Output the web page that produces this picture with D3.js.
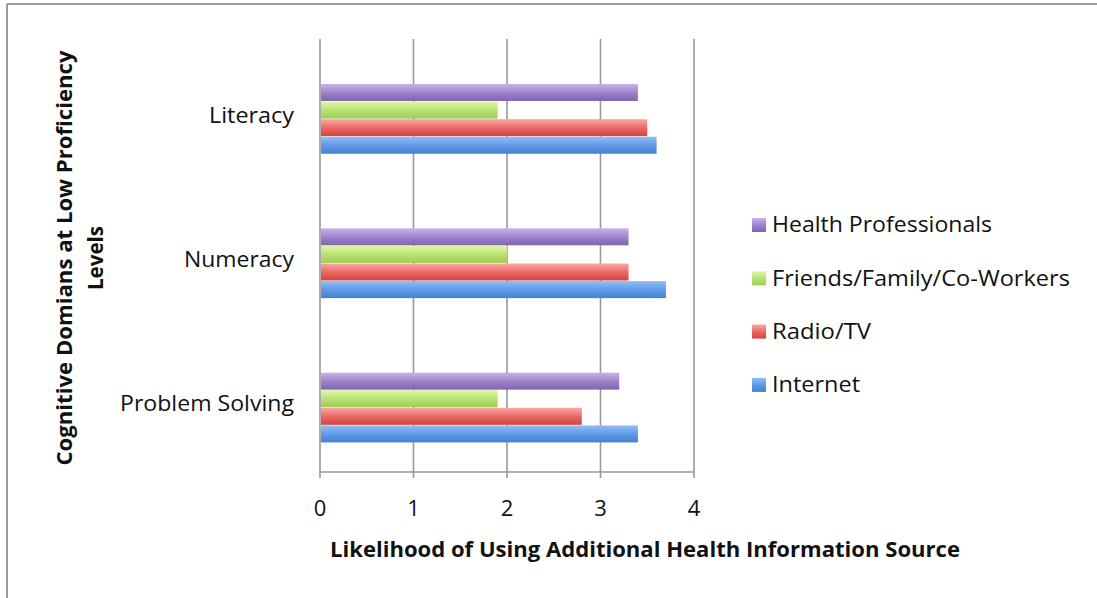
<!DOCTYPE html>
<html>
<head>
<meta charset="utf-8">
<script src="https://cdn.jsdelivr.net/npm/d3@7"></script>
<style>
  body { margin: 0; background: #fff; }
  text { font-family: "Open Sans", "Liberation Sans", sans-serif; fill: #111; }
</style>
</head>
<body>
<div id="chart"></div>
<script>
// categories top to bottom
var categories = ["Literacy", "Numeracy", "Problem Solving"];
// series in legend order (top bar first)
var seriesNames = ["Health Professionals", "Friends/Family/Co-Workers", "Radio/TV", "Internet"];
var healthPro = [3.4, 3.3, 3.2];
var friends   = [1.9, 2.0, 1.9];
var radioTV   = [3.5, 3.3, 2.8];
var internet  = [3.6, 3.7, 3.4];
var xTicks = [0, 1, 2, 3, 4];

var seriesValues = [healthPro, friends, radioTV, internet];
var gradStops = [
  ["#c9b3ea", "#9c80c9", "#8263ad"],
  ["#dcf7a4", "#b8e070", "#9fcb58"],
  ["#f9a8a6", "#e9645f", "#cf4645"],
  ["#92bdf6", "#5c98e4", "#4581d2"]
];

var W = 1097, H = 598;
var margin = {top: 39, left: 320};
var plotW = 374, plotH = 433;

var svg = d3.select("#chart").append("svg")
  .attr("width", W).attr("height", H);

// gradients for the glossy bars
var defs = svg.append("defs");
gradStops.forEach(function(s, i) {
  var g = defs.append("linearGradient").attr("id", "g" + i)
    .attr("x1", 0).attr("y1", 0).attr("x2", 0).attr("y2", 1);
  g.append("stop").attr("offset", "0%").attr("stop-color", s[0]);
  g.append("stop").attr("offset", "55%").attr("stop-color", s[1]);
  g.append("stop").attr("offset", "100%").attr("stop-color", s[2]);
});

// outer frame (top and left edges visible)
svg.append("line").attr("x1", 7).attr("x2", W).attr("y1", 4).attr("y2", 4)
  .attr("stroke", "#9a9a9a").attr("stroke-width", 2);
svg.append("line").attr("x1", 7).attr("x2", 7).attr("y1", 4).attr("y2", H)
  .attr("stroke", "#9a9a9a").attr("stroke-width", 2);

var g = svg.append("g")
  .attr("transform", "translate(" + margin.left + "," + margin.top + ")");

var x = d3.scaleLinear().domain([0, 4]).range([0, plotW]);
var y = d3.scaleBand().domain(categories).range([0, plotH]);
var barH = 17.6;

// gridlines
g.append("g").selectAll("line")
  .data(xTicks).enter().append("line")
  .attr("x1", function(d) { return x(d); })
  .attr("x2", function(d) { return x(d); })
  .attr("y1", 0).attr("y2", plotH + 6)
  .attr("stroke", "#999").attr("stroke-width", 1.6);

// bottom axis line
g.append("line").attr("x1", 0).attr("x2", plotW)
  .attr("y1", plotH).attr("y2", plotH)
  .attr("stroke", "#999").attr("stroke-width", 1.6);

// bars
categories.forEach(function(cat, ci) {
  var top = y(cat) + y.bandwidth() / 2 + 8 - barH * 2;
  seriesValues.forEach(function(vals, si) {
    g.append("rect")
      .attr("x", x(0) + 1)
      .attr("y", top + si * barH)
      .attr("width", x(vals[ci]) - x(0) - 1)
      .attr("height", barH - 0.6)
      .attr("fill", "url(#g" + si + ")");
  });
});

// tick labels
g.append("g").selectAll("text")
  .data(xTicks).enter().append("text")
  .attr("x", function(d) { return x(d); })
  .attr("y", plotH + 44)
  .attr("text-anchor", "middle")
  .style("font-size", "22px")
  .text(function(d) { return d; });

// category labels
var catWidths = [85, 110, 174];
g.append("g").selectAll("text")
  .data(categories).enter().append("text")
  .attr("x", -26)
  .attr("y", function(d) { return y(d) + y.bandwidth() / 2 + 4; })
  .attr("dy", "0.35em")
  .attr("text-anchor", "end")
  .style("font-size", "21px")
  .attr("textLength", function(d, i) { return catWidths[i]; })
  .attr("lengthAdjust", "spacingAndGlyphs")
  .text(function(d) { return d; });

// legend
var legend = svg.append("g").attr("transform", "translate(752,225)");
seriesNames.forEach(function(name, i) {
  var row = legend.append("g").attr("transform", "translate(0," + (i * 53.3) + ")");
  row.append("rect").attr("x", 0).attr("y", -7).attr("width", 14).attr("height", 14)
    .attr("fill", "url(#g" + i + ")");
  row.append("text").attr("x", 20).attr("y", 0).attr("dy", "0.35em")
    .style("font-size", "21px")
    .attr("textLength", [220, 298, 99, 88][i])
    .attr("lengthAdjust", "spacingAndGlyphs")
    .text(name);
});

// axis titles
svg.append("text")
  .attr("x", 645).attr("y", 550).attr("dy", "0.35em")
  .attr("text-anchor", "middle")
  .style("font-size", "21px").style("font-weight", "bold")
  .attr("textLength", 630).attr("lengthAdjust", "spacingAndGlyphs")
  .text("Likelihood of Using Additional Health Information Source");

var yt = svg.append("g").attr("transform", "translate(65,258) rotate(-90)");
yt.append("text").attr("x", 0).attr("y", 0).attr("dy", "0.35em")
  .attr("text-anchor", "middle")
  .style("font-size", "21px").style("font-weight", "bold")
  .attr("textLength", 415).attr("lengthAdjust", "spacingAndGlyphs")
  .text("Cognitive Domians at Low Proficiency");
yt.append("text").attr("x", 0).attr("y", 31).attr("dy", "0.35em")
  .attr("text-anchor", "middle")
  .style("font-size", "21px").style("font-weight", "bold")
  .attr("textLength", 64).attr("lengthAdjust", "spacingAndGlyphs")
  .text("Levels");
</script>
</body>
</html>
